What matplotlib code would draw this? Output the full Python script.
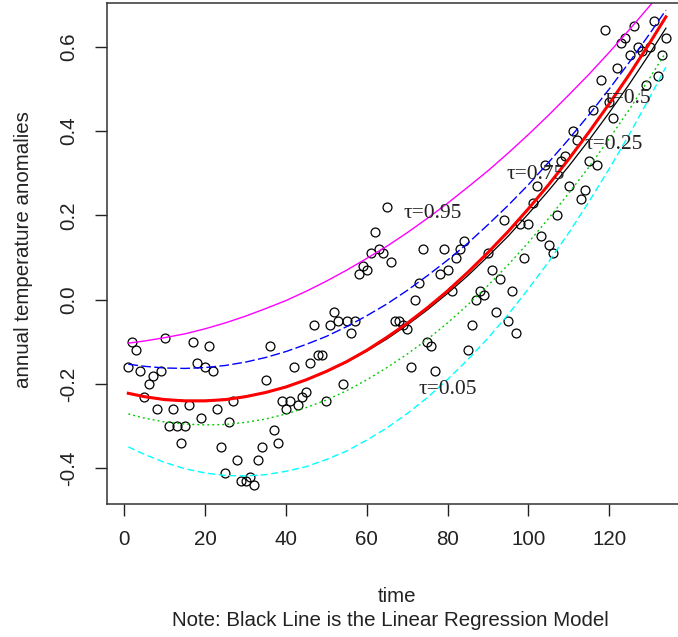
import numpy as np
import matplotlib
matplotlib.use("Agg")
import matplotlib.pyplot as plt

plt.rcParams['font.family'] = ['Liberation Sans', 'DejaVu Sans']
plt.rcParams['lines.scale_dashes'] = False

# annual temperature anomalies (time = 1..134)
time = np.arange(1, 135)
anomaly = [
    -0.16, -0.10, -0.12, -0.17, -0.23, -0.20, -0.18, -0.26, -0.17, -0.09,
    -0.30, -0.26, -0.30, -0.34, -0.30, -0.25, -0.10, -0.15, -0.28, -0.16,
    -0.11, -0.17, -0.26, -0.35, -0.41, -0.29, -0.24, -0.38, -0.43, -0.43,
    -0.42, -0.44, -0.38, -0.35, -0.19, -0.11, -0.31, -0.34, -0.24, -0.26,
    -0.24, -0.16, -0.25, -0.23, -0.22, -0.15, -0.06, -0.13, -0.13, -0.24,
    -0.06, -0.03, -0.05, -0.20, -0.05, -0.08, -0.05, 0.06, 0.08, 0.07,
    0.11, 0.16, 0.12, 0.11, 0.22, 0.09, -0.05, -0.05, -0.06, -0.07,
    -0.16, 0.00, 0.04, 0.12, -0.10, -0.11, -0.17, 0.06, 0.12, 0.07,
    0.02, 0.10, 0.12, 0.14, -0.12, -0.06, 0.00, 0.02, 0.01, 0.11,
    0.07, -0.03, 0.05, 0.19, -0.05, 0.02, -0.08, 0.18, 0.10, 0.18,
    0.23, 0.27, 0.15, 0.32, 0.13, 0.11, 0.20, 0.33, 0.34, 0.27,
    0.40, 0.38, 0.24, 0.26, 0.33, 0.45, 0.32, 0.52, 0.64, 0.47,
    0.43, 0.55, 0.61, 0.62, 0.58, 0.65, 0.60, 0.59, 0.51, 0.60,
    0.66, 0.53, 0.58, 0.62,
]

# fitted curves (quantile regressions and OLS), read at these times
fit_t = [1, 5, 10, 15, 20, 25, 30, 35, 40, 45, 50, 55, 60, 65, 70,
         75, 80, 85, 90, 95, 100, 105, 110, 115, 120, 125, 130, 134]
q05 = [-0.349, -0.367, -0.386, -0.401, -0.411, -0.417, -0.418, -0.415,
       -0.407, -0.396, -0.379, -0.359, -0.333, -0.304, -0.270, -0.232,
       -0.189, -0.142, -0.091, -0.035, 0.026, 0.090, 0.159, 0.233,
       0.311, 0.393, 0.480, 0.552]
q25 = [-0.271, -0.281, -0.290, -0.295, -0.297, -0.296, -0.291, -0.283,
       -0.271, -0.256, -0.238, -0.216, -0.190, -0.161, -0.129, -0.094,
       -0.055, -0.012, 0.034, 0.083, 0.136, 0.193, 0.253, 0.315,
       0.382, 0.452, 0.526, 0.587]
q50 = [-0.222, -0.230, -0.237, -0.240, -0.240, -0.237, -0.230, -0.220,
       -0.207, -0.190, -0.170, -0.147, -0.120, -0.089, -0.056, -0.019,
       0.021, 0.065, 0.112, 0.162, 0.216, 0.273, 0.334, 0.398,
       0.465, 0.535, 0.609, 0.671]
q75 = [-0.153, -0.158, -0.162, -0.163, -0.161, -0.156, -0.148, -0.137,
       -0.123, -0.106, -0.087, -0.064, -0.038, -0.010, 0.022, 0.057,
       0.094, 0.134, 0.178, 0.224, 0.273, 0.326, 0.381, 0.439,
       0.500, 0.564, 0.631, 0.687]
q95 = [-0.103, -0.098, -0.090, -0.081, -0.069, -0.055, -0.039, -0.021,
       -0.002, 0.020, 0.044, 0.070, 0.098, 0.127, 0.159, 0.193,
       0.229, 0.267, 0.306, 0.348, 0.392, 0.438, 0.486, 0.535,
       0.587, 0.641, 0.697, 0.743]
ols = [-0.222, -0.230, -0.236, -0.239, -0.239, -0.236, -0.229, -0.220,
       -0.206, -0.190, -0.171, -0.148, -0.122, -0.093, -0.060, -0.024,
       0.015, 0.057, 0.103, 0.151, 0.204, 0.259, 0.317, 0.379,
       0.444, 0.512, 0.584, 0.644]

labels = ["τ=0.95", "τ=0.05", "τ=0.75", "τ=0.5", "τ=0.25"]
label_x = [76.2, 80.0, 101.8, 124.5, 121.0]
label_y = [0.204, -0.212, 0.296, 0.478, 0.367]

fig = plt.figure(figsize=(6.78, 6.37), dpi=100)
ax = fig.add_axes([106.8 / 678, 132.7 / 637, 580.6 / 678, 501.3 / 637])

ax.plot(time, anomaly, 'o', mfc='none', mec='black', ms=6.4, mew=0.9)

ax.plot(fit_t, ols, color='black', lw=0.9)
ax.plot(fit_t, q05, color='#00FFFF', lw=1.0, ls=(0, (5.0, 2.6)))
ax.plot(fit_t, q25, color='#00CD00', lw=1.0, ls=(0, (1.4, 2.2)))
ax.plot(fit_t, q50, color='#FF0000', lw=2.2)
ax.plot(fit_t, q75, color='#0000FF', lw=1.0, ls=(0, (7.0, 2.4)))
ax.plot(fit_t, q95, color='#FF00FF', lw=1.0)

for s, lx, ly in zip(labels, label_x, label_y):
    ax.text(lx, ly, s, ha='center', va='center', fontsize=15.5, color='#222222',
            family=['Liberation Serif', 'DejaVu Serif'])

ax.set_xlim(-4.32, 139.32)
ax.set_ylim(-0.4853, 0.7038)
ax.set_xticks([0, 20, 40, 60, 80, 100, 120])
ax.set_yticks([-0.4, -0.2, 0.0, 0.2, 0.4, 0.6])
ax.set_yticklabels(["-0.4", "-0.2", "0.0", "0.2", "0.4", "0.6"])
ax.tick_params(labelsize=14.8, length=8.6, width=1, colors='#222222')
ax.tick_params(axis='x', pad=10)
ax.tick_params(axis='y', pad=12)
plt.setp(ax.get_yticklabels(), rotation=90, va='center')
for sp in ax.spines.values():
    sp.set_color('#333333')
    sp.set_linewidth(1.1)

fig.text(23.5 / 678, (637 - 250) / 637, "annual temperature anomalies",
         rotation=90, ha='center', va='center', fontsize=14.8, color='#222222')
fig.text(397 / 678, (637 - 597) / 637, "time", ha='center', va='center',
         fontsize=14.8, color='#222222')
fig.text(390 / 678, (637 - 620) / 637, "Note: Black Line is the Linear Regression Model",
         ha='center', va='center', fontsize=14.8, color='#222222')

fig.savefig("out.png", dpi=100)
